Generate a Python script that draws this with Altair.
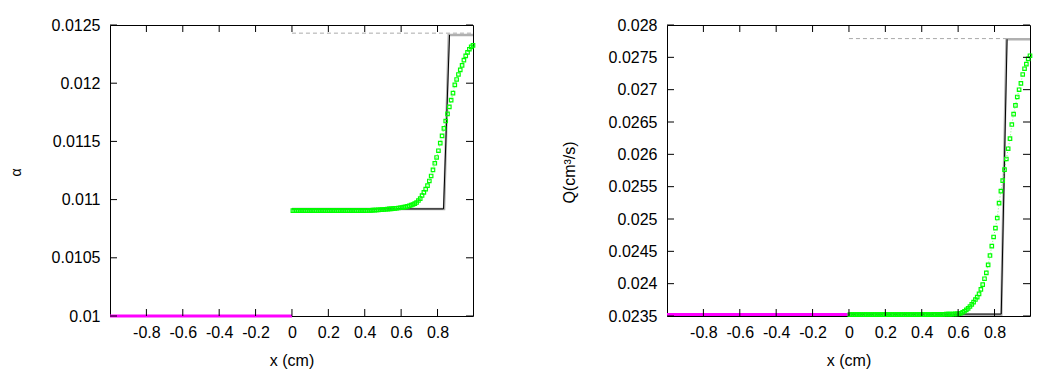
import altair as alt
import pandas as pd

FONT = "Liberation Sans"
W, H = 363, 291

# ---------------- data ----------------
x_green = [
    0.005, 0.015, 0.025, 0.035, 0.045, 0.055, 0.065, 0.075, 0.085, 0.095,
    0.105, 0.115, 0.125, 0.135, 0.145, 0.155, 0.165, 0.175, 0.185, 0.195,
    0.205, 0.215, 0.225, 0.235, 0.245, 0.255, 0.265, 0.275, 0.285, 0.295,
    0.305, 0.315, 0.325, 0.335, 0.345, 0.355, 0.365, 0.375, 0.385, 0.395,
    0.405, 0.415, 0.425, 0.435, 0.445, 0.455, 0.465, 0.475, 0.485, 0.495,
    0.505, 0.515, 0.525, 0.535, 0.545, 0.555, 0.565, 0.575, 0.585, 0.595,
    0.605, 0.615, 0.625, 0.635, 0.645, 0.655, 0.665, 0.675, 0.685, 0.695,
    0.705, 0.715, 0.725, 0.735, 0.745, 0.755, 0.765, 0.775, 0.785, 0.795,
    0.805, 0.815, 0.825, 0.835, 0.845, 0.855, 0.865, 0.875, 0.885, 0.895,
    0.905, 0.915, 0.925, 0.935, 0.945, 0.955, 0.965, 0.975, 0.985, 0.995,
]

alpha_green = [
    0.010905, 0.010905, 0.010905, 0.010905, 0.010905, 0.010905, 0.010905, 0.010905, 0.010905, 0.010905,
    0.010905, 0.010905, 0.010905, 0.010905, 0.010905, 0.010905, 0.010905, 0.010905, 0.010905, 0.010905,
    0.010905, 0.010905, 0.010905, 0.010905, 0.010905, 0.010905, 0.010905, 0.010905, 0.010905, 0.010905,
    0.010905, 0.010905, 0.010905, 0.010905, 0.010905, 0.010905, 0.010905, 0.010905, 0.010905, 0.010905,
    0.010906, 0.010906, 0.010907, 0.010908, 0.010909, 0.010910, 0.010911, 0.010912, 0.010913, 0.010914,
    0.010915, 0.010917, 0.010918, 0.010920, 0.010921, 0.010923, 0.010924, 0.010926, 0.010928, 0.010930,
    0.010932, 0.010935, 0.010938, 0.010942, 0.010947, 0.010952, 0.010958, 0.010965, 0.010975, 0.010992,
    0.011008, 0.011035, 0.011062, 0.011090, 0.011120, 0.011160, 0.011203, 0.011255, 0.011312, 0.011362,
    0.011420, 0.011485, 0.011547, 0.011612, 0.011675, 0.011736, 0.011797, 0.011855, 0.011915, 0.011985,
    0.012032, 0.012075, 0.012115, 0.012153, 0.012198, 0.012235, 0.012265, 0.012292, 0.012312, 0.012325,
]

Q_green = [
    0.023520, 0.023520, 0.023520, 0.023520, 0.023520, 0.023520, 0.023520, 0.023520, 0.023520, 0.023520,
    0.023520, 0.023520, 0.023520, 0.023520, 0.023520, 0.023520, 0.023520, 0.023520, 0.023520, 0.023520,
    0.023520, 0.023520, 0.023520, 0.023520, 0.023520, 0.023520, 0.023520, 0.023520, 0.023520, 0.023520,
    0.023520, 0.023520, 0.023520, 0.023520, 0.023520, 0.023520, 0.023520, 0.023520, 0.023520, 0.023520,
    0.023521, 0.023521, 0.023522, 0.023522, 0.023523, 0.023523, 0.023524, 0.023524, 0.023525, 0.023525,
    0.023526, 0.023526, 0.023527, 0.023528, 0.023528, 0.023529, 0.023530, 0.023531, 0.023532, 0.023533,
    0.023535, 0.023543, 0.023558, 0.023574, 0.023594, 0.023617, 0.023647, 0.023680, 0.023714, 0.023755,
    0.023793, 0.023842, 0.023912, 0.023986, 0.024076, 0.024167, 0.024291, 0.024435, 0.024580, 0.024722,
    0.024860, 0.025015, 0.025246, 0.025430, 0.025593, 0.025764, 0.025928, 0.026087, 0.026242, 0.026461,
    0.026623, 0.026758, 0.026887, 0.026999, 0.027098, 0.027235, 0.027324, 0.027396, 0.027477, 0.027525,
]

# left (upstream) magenta segment
x_left = [-1.0, 0.0]
alpha_left = [0.01, 0.01]
Q_left = [0.023525, 0.023525]

# reference step profiles
alpha_gray_x = [0.0, 0.836, 0.862, 0.995]
alpha_gray_y = [0.01092, 0.01092, 0.012415, 0.012415]
alpha_black_x = [0.0, 0.833, 0.866]
alpha_black_y = [0.01092, 0.01092, 0.012415]
alpha_dash_x = [0.0, 0.995]
alpha_dash_y = [0.01243, 0.01243]

Q_gray_x = [0.0, 0.837, 0.866, 0.995]
Q_gray_y = [0.02352, 0.02352, 0.02778, 0.02778]
Q_black_x = [0.0, 0.837, 0.869]
Q_black_y = [0.02353, 0.02353, 0.02778]
Q_dash_x = [0.0, 0.995]
Q_dash_y = [0.02779, 0.02779]

# ticks
x_ticks = [-0.8, -0.6, -0.4, -0.2, 0, 0.2, 0.4, 0.6, 0.8]
alpha_ticks = [0.01, 0.0105, 0.011, 0.0115, 0.012, 0.0125]
Q_ticks = [0.0235, 0.024, 0.0245, 0.025, 0.0255, 0.026, 0.0265, 0.027, 0.0275, 0.028]

X_DOMAIN = [-1.0, 0.995]


def panel(title, ydom, yticks, green_y, left_y, gx, gy, bx, by, dx, dy, title_x, title_size):
    xscale = alt.Scale(domain=X_DOMAIN, nice=False, zero=False)
    yscale = alt.Scale(domain=ydom, nice=False, zero=False)
    xaxis = alt.Axis(values=x_ticks, labelExpr="'' + datum.value", tickSize=0,
                     domain=False, grid=False, labelPadding=8, labelFontSize=16,
                     labelFont=FONT, labelColor="#000", labelFlush=False,
                     title="x (cm)", titleFont=FONT, titleFontSize=16,
                     titleFontWeight="normal", titleColor="#000",
                     titleY=44, titleBaseline="middle")
    yaxis = alt.Axis(values=yticks, labelExpr="'' + datum.value", tickSize=0,
                     domain=False, grid=False, labelPadding=10, labelFontSize=16,
                     labelFont=FONT, labelColor="#000", labelFlush=False,
                     title=title, titleFont=FONT, titleFontSize=title_size,
                     titleFontWeight="normal", titleColor="#000",
                     titleAngle=270, titleAlign="center", titleBaseline="middle",
                     titleX=title_x, titleY=147)

    def X(field):
        return alt.X(field, type="quantitative", scale=xscale, axis=xaxis)

    def Y(field):
        return alt.Y(field, type="quantitative", scale=yscale, axis=yaxis)

    df_green = pd.DataFrame({"x": x_green, "y": green_y})
    df_left = pd.DataFrame({"x": x_left, "y": left_y})
    df_gray = pd.DataFrame({"x": gx, "y": gy})
    df_black = pd.DataFrame({"x": bx, "y": by})
    df_dash = pd.DataFrame({"x": dx, "y": dy})
    df_xt = pd.DataFrame({"x": x_ticks})
    df_yt = pd.DataFrame({"y": yticks})

    dash = alt.Chart(df_dash).mark_line(color="#aaaaaa", strokeWidth=1, strokeDash=[4, 3]).encode(x=X("x"), y=Y("y"))
    gray = alt.Chart(df_gray).mark_line(color="#b0b0b0", strokeWidth=2.5).encode(x=X("x"), y=Y("y"))
    black = alt.Chart(df_black).mark_line(color="#000000", strokeWidth=1).encode(x=X("x"), y=Y("y"))
    mag = alt.Chart(df_left).mark_line(color="#ff00ff", strokeWidth=3).encode(x=X("x"), y=Y("y"))
    gline = alt.Chart(df_green).mark_line(color="#77ff77", strokeWidth=1, strokeDash=[1, 2]).encode(x=X("x"), y=Y("y"))
    gpts = alt.Chart(df_green).mark_point(shape="square", size=12, filled=False, color="#00ff00",
                                          strokeWidth=1.2, opacity=1).encode(x=X("x"), y=Y("y"))

    xt_bot = alt.Chart(df_xt).mark_rule(color="#000", strokeWidth=1).encode(
        x=X("x"), y=alt.value(H), y2=alt.value(H - 7))
    xt_top = alt.Chart(df_xt).mark_rule(color="#000", strokeWidth=1).encode(
        x=X("x"), y=alt.value(0), y2=alt.value(7))
    yt_left = alt.Chart(df_yt).mark_rule(color="#000", strokeWidth=1).encode(
        y=Y("y"), x=alt.value(0), x2=alt.value(7))
    yt_right = alt.Chart(df_yt).mark_rule(color="#000", strokeWidth=1).encode(
        y=Y("y"), x=alt.value(W), x2=alt.value(W - 7))

    return alt.layer(dash, gray, black, mag, gline, gpts, xt_bot, xt_top, yt_left, yt_right).properties(
        width=W, height=H)


left = panel("α", [0.01, 0.0125], alpha_ticks, alpha_green, alpha_left,
             alpha_gray_x, alpha_gray_y, alpha_black_x, alpha_black_y,
             alpha_dash_x, alpha_dash_y, -94, 14)
right = panel("Q(cm³/s)", [0.0235, 0.028], Q_ticks, Q_green, Q_left,
              Q_gray_x, Q_gray_y, Q_black_x, Q_black_y,
              Q_dash_x, Q_dash_y, -98, 16)

chart = alt.hconcat(left, right, spacing=194, bounds="flush").properties(
    padding={"left": 0, "top": 8, "right": 5, "bottom": 5},
    background="white",
).configure_view(stroke="#000", strokeWidth=1)

chart.save("out.html", embed_options={"renderer": "svg", "actions": False})
